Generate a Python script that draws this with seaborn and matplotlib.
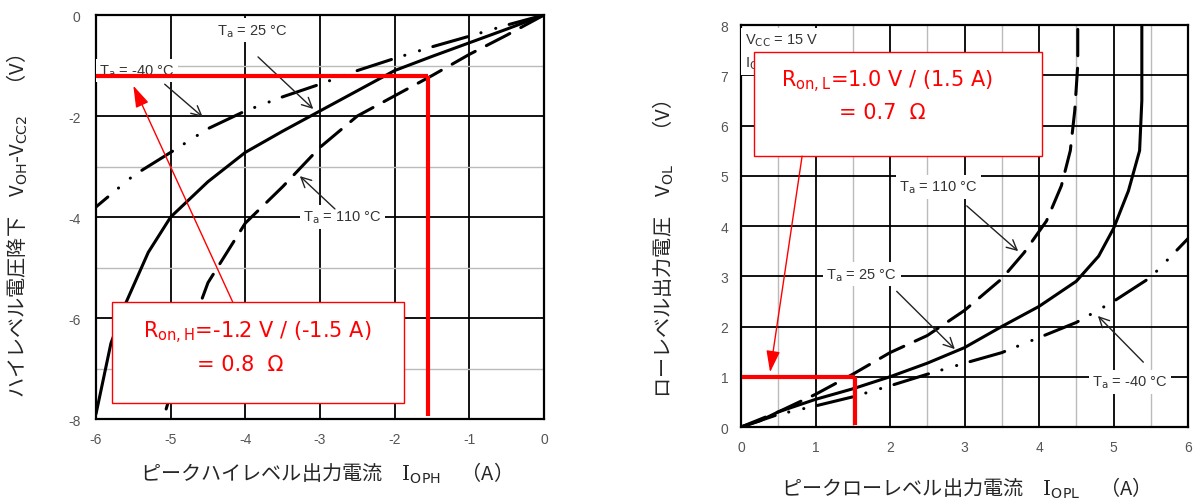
import numpy as np
import pandas as pd
import matplotlib
matplotlib.use("Agg")
import matplotlib.pyplot as plt
from matplotlib.patches import Rectangle
import seaborn as sns

# ---- high-level output (left) ----
hi_i_25 = [0, -0.5, -1.0, -1.5, -2.0, -2.5, -3.0, -3.5, -4.0, -4.5, -5.0, -5.3, -5.6, -5.8, -6.0]
hi_v_25 = [0, -0.28, -0.55, -0.82, -1.1, -1.5, -1.9, -2.3, -2.72, -3.3, -4.0, -4.7, -5.7, -6.5, -7.9]
hi_i_110 = [0, -0.5, -1.0, -1.5, -2.0, -2.5, -3.0, -3.5, -4.0, -4.5, -4.8, -5.1]
hi_v_110 = [0, -0.4, -0.78, -1.2, -1.6, -2.0, -2.62, -3.4, -4.12, -5.3, -6.5, -8.0]
hi_i_m40 = [0, -0.5, -1.0, -1.5, -2.0, -2.5, -3.0, -3.5, -4.0, -4.5, -5.0, -5.5, -6.0]
hi_v_m40 = [0, -0.2, -0.42, -0.63, -0.86, -1.1, -1.37, -1.62, -1.9, -2.25, -2.72, -3.18, -3.8]

# ---- low-level output (right) ----
lo_i_25 = [0, 0.25, 0.5, 1.0, 1.5, 2.0, 2.5, 3.0, 3.5, 4.0, 4.5, 4.8, 5.0, 5.2, 5.35, 5.38, 5.38]
lo_v_25 = [0, 0.12, 0.3, 0.55, 0.76, 1.0, 1.27, 1.58, 2.0, 2.4, 2.9, 3.4, 3.95, 4.7, 5.5, 6.5, 8.0]
lo_i_110 = [0, 0.5, 1.0, 1.5, 2.0, 2.5, 3.0, 3.5, 3.8, 4.1, 4.3, 4.42, 4.48, 4.52, 4.52]
lo_v_110 = [0, 0.3, 0.65, 1.05, 1.48, 1.82, 2.32, 2.95, 3.47, 4.1, 4.8, 5.5, 6.3, 7.2, 8.0]
lo_i_m40 = [0, 0.5, 1.0, 1.5, 2.0, 2.5, 3.0, 3.5, 4.0, 4.5, 5.0, 5.5, 6.0]
lo_v_m40 = [0, 0.25, 0.42, 0.6, 0.82, 1.05, 1.27, 1.48, 1.78, 2.08, 2.5, 2.98, 3.75]

temps = ["25", "110", "-40"]
hi_xticks = [-6, -5, -4, -3, -2, -1, 0]
hi_yticks = [0, -2, -4, -6, -8]
lo_xticks = [0, 1, 2, 3, 4, 5, 6]
lo_yticks = [0, 1, 2, 3, 4, 5, 6, 7, 8]

# Ron readings
ron_h_v, ron_h_i = -1.2, -1.55
ron_l_v, ron_l_i = 1.0, 1.53

sns.set_theme(style="white")
plt.rcParams['font.family'] = ['Noto Sans CJK JP', 'DejaVu Sans']
plt.rcParams['axes.unicode_minus'] = False
plt.rcParams['lines.scale_dashes'] = False
plt.rcParams['mathtext.fontset'] = 'custom'
plt.rcParams['mathtext.rm'] = 'DejaVu Serif'
plt.rcParams['mathtext.sf'] = 'DejaVu Sans'
plt.rcParams['mathtext.it'] = 'DejaVu Sans:italic'

dash_map = {"25": "", "110": (19, 9), "-40": (26, 10, 0.1, 11, 0.1, 10)}
tick_font = ['Liberation Sans', 'DejaVu Sans']
lbl_font = ['Liberation Sans', 'DejaVu Sans']


def make_frame(curves):
    parts = []
    for t, (i, v) in zip(temps, curves):
        parts.append(pd.DataFrame({"I": i, "V": v, "T": t}))
    return pd.concat(parts, ignore_index=True)


def style_axes(ax, xlim, ylim, xt, yt, xminor, yminor, ypad):
    ax.set_xlim(*xlim)
    ax.set_ylim(*ylim)
    ax.set_xticks(xt)
    ax.set_yticks(yt)
    ax.set_xticks(xminor, minor=True)
    ax.set_yticks(yminor, minor=True)
    ax.set_axisbelow(True)
    ax.grid(which='major', color='black', lw=1.3)
    ax.grid(which='minor', color='#bbbbbb', lw=1.0)
    ax.tick_params(which='both', length=0)
    ax.tick_params(axis='x', pad=9)
    ax.tick_params(axis='y', pad=ypad)
    for lab in ax.get_xticklabels() + ax.get_yticklabels():
        lab.set_family(tick_font)
        lab.set_fontsize(10)
        lab.set_color('#555555')
    for s in ax.spines.values():
        s.set_visible(True)
        s.set_color('black')
        s.set_linewidth(1.6)


def draw_curves(ax, df):
    sns.lineplot(data=df, x="I", y="V", style="T", dashes=dash_map,
                 color='black', lw=2.2, estimator=None, sort=False,
                 legend=False, ax=ax, dash_capstyle='round', zorder=2.5)


def label(ax, x, y, txt, ha='center'):
    ax.text(x, y, txt, ha=ha, va='center', fontsize=10.5, color='#333333',
            family=lbl_font, zorder=3,
            bbox=dict(facecolor='white', edgecolor='none', pad=2.5))


def arrow(ax, head, tail):
    ax.annotate("", xy=head, xytext=tail, zorder=3.5,
                arrowprops=dict(arrowstyle='->,head_length=0.6,head_width=0.3',
                                color='#222222', lw=1.0, shrinkA=0, shrinkB=0))


def red_arrow(ax, head, tail):
    ax.annotate("", xy=head, xytext=tail, zorder=6,
                arrowprops=dict(arrowstyle='-|>,head_length=1.1,head_width=0.35',
                                color='red', lw=1.0, shrinkA=0, shrinkB=0))


fig = plt.figure(figsize=(11.94, 5.02), dpi=100)
ax1 = fig.add_axes([0.0804, 0.1633, 0.3752, 0.8048])
ax2 = fig.add_axes([0.6206, 0.1474, 0.3744, 0.8008])

# ---------- left ----------
df_hi = make_frame([(hi_i_25, hi_v_25), (hi_i_110, hi_v_110), (hi_i_m40, hi_v_m40)])
draw_curves(ax1, df_hi)
style_axes(ax1, (-6, 0), (-8, 0), hi_xticks, hi_yticks, [], [-1, -3, -5, -7], 11)

label(ax1, -3.9, -0.3, r"T$_{\mathsf{a}}$ = 25 °C")
arrow(ax1, (-3.09, -1.86), (-3.83, -0.83))
label(ax1, -5.45, -1.1, r"T$_{\mathsf{a}}$ = -40 °C")
arrow(ax1, (-4.57, -2.02), (-5.08, -1.37))
label(ax1, -2.7, -4.0, r"T$_{\mathsf{a}}$ = 110 °C")
arrow(ax1, (-3.27, -3.19), (-2.8, -3.84))

ax1.plot([-6, ron_h_i], [ron_h_v, ron_h_v], color='red', lw=3, zorder=5,
         solid_capstyle='butt')
ax1.plot([ron_h_i, ron_h_i], [ron_h_v, -7.95], color='red', lw=3, zorder=5,
         solid_capstyle='butt')
ax1.add_patch(Rectangle((-5.79, -7.68), 3.91, 2.0, facecolor='white',
                        edgecolor='red', lw=1.0, zorder=6))
red_arrow(ax1, (-5.5, -1.4), (-4.17, -5.68))
ax1.text(-3.84, -6.28, r"R$_{\mathsf{on,H}}$=-1.2 V / (-1.5 A)", ha='center',
         va='center', color='red', fontsize=15, family=['DejaVu Sans'], zorder=7)
ax1.text(-4.07, -6.91, "= 0.8  Ω", ha='center', va='center', color='red',
         fontsize=15, family=['DejaVu Sans'], zorder=7)

ax1.set_xlabel("ピークハイレベル出力電流　$\\mathrm{I}_{\\mathsf{OPH}}$　（A）", fontsize=14.5)
ax1.set_ylabel("ハイレベル電圧降下　V$_{\\mathsf{OH}}$-V$_{\\mathsf{CC2}}$　（V）", fontsize=14.5)
ax1.xaxis.label.set_va('center')
ax1.yaxis.label.set_va('center')
ax1.xaxis.set_label_coords(0.502, -0.131)
ax1.yaxis.set_label_coords(-0.176, 0.48)

# ---------- right ----------
df_lo = make_frame([(lo_i_25, lo_v_25), (lo_i_110, lo_v_110), (lo_i_m40, lo_v_m40)])
draw_curves(ax2, df_lo)
style_axes(ax2, (0, 6), (0, 8), lo_xticks, lo_yticks,
           [0.5, 1.5, 2.5, 3.5, 4.5, 5.5], [], 9)

label(ax2, 0.05, 7.7, r"V$_{\mathsf{CC}}$ = 15 V", ha='left')
label(ax2, 0.05, 7.25, r"I$_{\mathsf{O}}$", ha='left')
label(ax2, 2.65, 4.78, r"T$_{\mathsf{a}}$ = 110 °C")
arrow(ax2, (3.72, 3.5), (3.03, 4.4))
label(ax2, 1.62, 3.04, r"T$_{\mathsf{a}}$ = 25 °C")
arrow(ax2, (2.87, 1.55), (2.09, 2.7))
label(ax2, 5.22, 0.9, r"T$_{\mathsf{a}}$ = -40 °C")
arrow(ax2, (4.79, 2.21), (5.4, 1.29))

ax2.plot([0.02, ron_l_i], [ron_l_v, ron_l_v], color='red', lw=3, zorder=5,
         solid_capstyle='butt')
ax2.plot([ron_l_i, ron_l_i], [ron_l_v, 0.03], color='red', lw=3, zorder=5,
         solid_capstyle='butt')
ax2.add_patch(Rectangle((0.17, 5.39), 3.87, 2.07, facecolor='white',
                        edgecolor='red', lw=1.0, zorder=6))
red_arrow(ax2, (0.39, 1.09), (0.82, 5.39))
ax2.text(1.96, 6.89, r"R$_{\mathsf{on,L}}$=1.0 V / (1.5 A)", ha='center',
         va='center', color='red', fontsize=15, family=['DejaVu Sans'], zorder=7)
ax2.text(1.9, 6.27, "= 0.7  Ω", ha='center', va='center', color='red',
         fontsize=15, family=['DejaVu Sans'], zorder=7)

ax2.set_xlabel("ピークローレベル出力電流　$\\mathrm{I}_{\\mathsf{OPL}}$　（A）", fontsize=14.5)
ax2.set_ylabel("ローレベル出力電圧　V$_{\\mathsf{OL}}$　 （V）", fontsize=14.5)
ax2.xaxis.label.set_va('center')
ax2.yaxis.label.set_va('center')
ax2.xaxis.set_label_coords(0.49, -0.149)
ax2.yaxis.set_label_coords(-0.174, 0.443)

fig.savefig("out.png", dpi=100)
